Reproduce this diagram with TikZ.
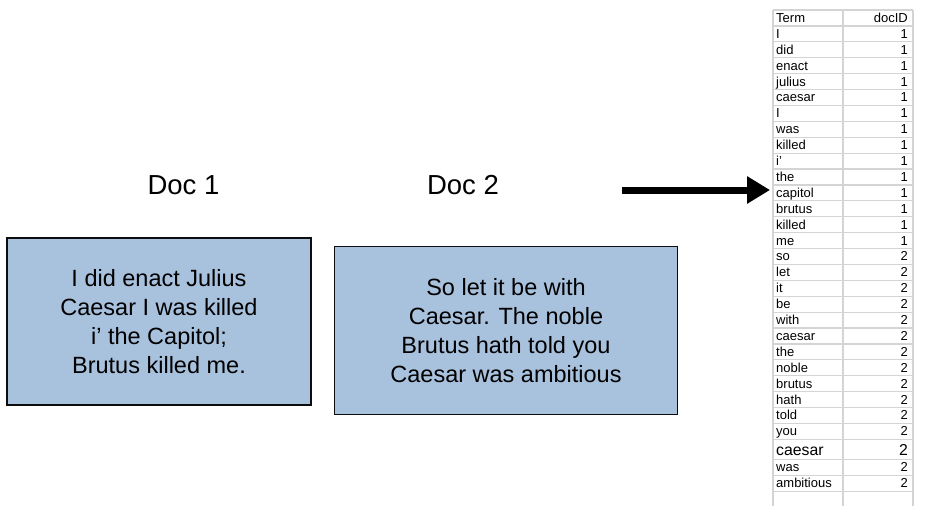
\documentclass[tikz,border=0pt]{standalone}
\usepackage{fontspec}
\setmainfont{Liberation Sans}
\usetikzlibrary{arrows.meta}
\definecolor{boxblue}{HTML}{A8C1DD}
\definecolor{gridgray}{HTML}{D4D4D4}
\definecolor{shadowtan}{HTML}{DAD6C6}
\tikzset{
  docbox/.style={draw=black!95, line width=1.8pt, fill=boxblue, inner sep=0pt,
    align=center, font=\fontsize{23.5}{29}\selectfont},
  doclabel/.style={font=\fontsize{27.5}{30}\selectfont, inner sep=0pt},
  termtext/.style={anchor=base west, inner sep=0pt, font=\fontsize{13}{14}\selectfont},
  idtext/.style={anchor=base east, inner sep=0pt, font=\fontsize{13}{14}\selectfont},
  gridline/.style={draw=gridgray, line width=1.2pt},
}
\begin{document}
\begin{tikzpicture}[x=1pt,y=-1pt]
\useasboundingbox (0,0) rectangle (948,506);
% headings
\node[doclabel] (h1) at (183.5,185) {Doc 1};
\node[doclabel] (h2) at (463,185) {Doc 2};
% boxes
\node[docbox, minimum width=304pt, minimum height=167pt] (d1) at (159,321.5)
  {I did enact Julius\\Caesar I was killed\\i’ the Capitol;\\Brutus killed me.};
\node[docbox, minimum width=343pt, minimum height=168pt] (d2) at (506,330.5)
  {So let it be with\\Caesar. The noble\\Brutus hath told you\\Caesar was ambitious};
% arrow
\coordinate (as) at (622,190);
\coordinate (ae) at (770,190);
\draw[draw=shadowtan, line width=7pt, -{Triangle[length=23pt,width=26pt]}, shift={(2pt,-2pt)}] (as) -- (ae);
\draw[draw=black, line width=7pt, -{Triangle[length=23pt,width=26pt]}] (as) -- (ae);
% table
\def\tl{773}\def\tm{843}\def\tr{913}
\pgfmathsetmacro{\h}{15.9}
\foreach \term/\id [count=\i from 0] in {Term/docID,I/1,did/1,enact/1,julius/1,caesar/1,I/1,was/1,killed/1,i'/1,the/1,capitol/1,brutus/1,killed/1,me/1,so/2,let/2,it/2,be/2,with/2,caesar/2,the/2,noble/2,brutus/2,hath/2,told/2,you/2}{
  \pgfmathsetmacro{\yc}{10+\h*(\i+0.5)+4.5}
  \node[termtext] (t\i) at (776,\yc) {\term};
  \node[idtext] (n\i) at (908,\yc) {\id};
  \pgfmathsetmacro{\yb}{10+\h*\i}
  \draw[gridline] (\tl,\yb) -- (\tr,\yb);
}
% row 27 big caesar
\draw[gridline] (\tl,439.3) -- (\tr,439.3);
\node[termtext, font=\fontsize{15.8}{17}\selectfont] (t27) at (776,455) {caesar};
\node[idtext, font=\fontsize{15.8}{17}\selectfont] (n27) at (908,455) {2};
\draw[gridline] (\tl,459.3) -- (\tr,459.3);
\node[termtext] (t28) at (776,471.7) {was};
\node[idtext] (n28) at (908,471.7) {2};
\draw[gridline] (\tl,475.2) -- (\tr,475.2);
\node[termtext] (t29) at (776,487.6) {ambitious};
\node[idtext] (n29) at (908,487.6) {2};
\draw[gridline] (\tl,491.1) -- (\tr,491.1);
\draw[gridline] (\tl,10) -- (\tl,507);
\draw[gridline] (\tm,10) -- (\tm,507);
\draw[gridline] (\tr,10) -- (\tr,507);
\end{tikzpicture}
\end{document}
